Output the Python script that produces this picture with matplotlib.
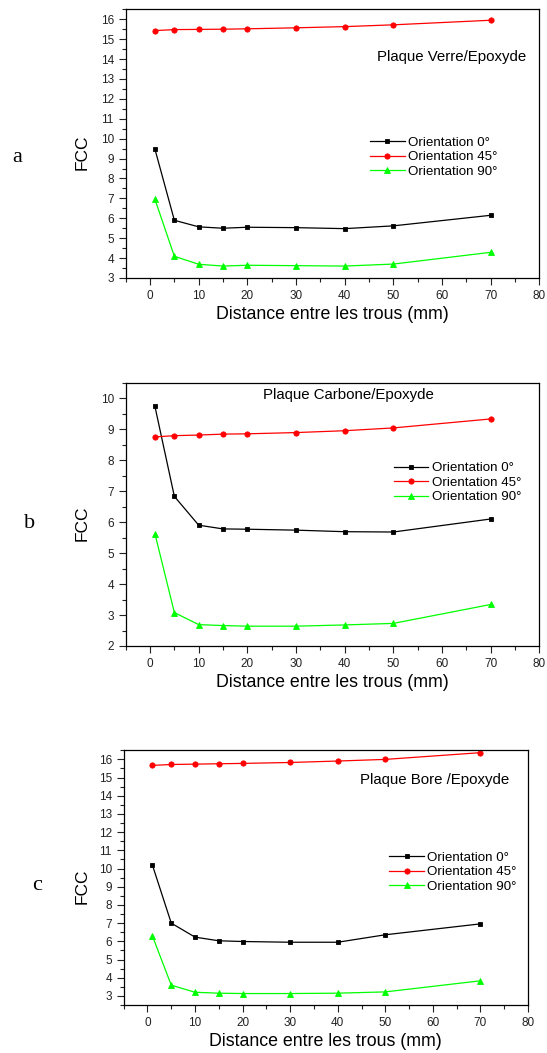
import matplotlib
matplotlib.use("Agg")
import matplotlib.pyplot as plt
from matplotlib.ticker import MultipleLocator

plt.rcParams['font.family'] = ['Liberation Sans', 'DejaVu Sans']

W, H = 547, 1053
DPI = 100

distance = [1, 5, 10, 15, 20, 30, 40, 50, 70]
labels = ["Orientation 0°", "Orientation 45°", "Orientation 90°"]

# Panel a : Plaque Verre/Epoxyde
verre_0 = [9.48, 5.90, 5.57, 5.50, 5.55, 5.53, 5.48, 5.62, 6.15]
verre_45 = [15.43, 15.48, 15.49, 15.50, 15.52, 15.57, 15.63, 15.72, 15.95]
verre_90 = [6.96, 4.09, 3.69, 3.60, 3.64, 3.62, 3.60, 3.70, 4.29]

# Panel b : Plaque Carbone/Epoxyde
carbone_0 = [9.74, 6.83, 5.90, 5.78, 5.77, 5.74, 5.69, 5.68, 6.10]
carbone_45 = [8.75, 8.79, 8.81, 8.84, 8.85, 8.89, 8.95, 9.04, 9.33]
carbone_90 = [5.63, 3.08, 2.69, 2.66, 2.64, 2.64, 2.68, 2.73, 3.34]

# Panel c : Plaque Bore /Epoxyde
bore_0 = [10.22, 7.00, 6.23, 6.03, 5.99, 5.95, 5.95, 6.36, 6.96]
bore_45 = [15.67, 15.72, 15.74, 15.76, 15.78, 15.83, 15.91, 16.00, 16.37]
bore_90 = [6.32, 3.59, 3.20, 3.15, 3.13, 3.13, 3.15, 3.22, 3.83]

panels = [
    dict(letter="a", title="Plaque Verre/Epoxyde", series=[verre_0, verre_45, verre_90],
         rect=(125.7, 539.3, 9.3, 278.0), ylim=(3, 16.5),
         title_xy=(526, 57), title_ha="right",
         leg_xy=(370, 157.3), letter_xy=(17, 158)),
    dict(letter="b", title="Plaque Carbone/Epoxyde", series=[carbone_0, carbone_45, carbone_90],
         rect=(125.7, 539.3, 382.7, 646.0), ylim=(2, 10.5),
         title_xy=(348, 395), title_ha="center",
         leg_xy=(393.6, 482.7), letter_xy=(30, 523)),
    dict(letter="c", title="Plaque Bore /Epoxyde", series=[bore_0, bore_45, bore_90],
         rect=(123.7, 528.0, 750.3, 1005.0), ylim=(2.5, 16.5),
         title_xy=(509, 780), title_ha="right",
         leg_xy=(389.3, 872), letter_xy=(37, 886)),
]

colors = ["#000000", "#FF0000", "#00FF00"]
markers = ["s", "o", "^"]
msizes = [3.4, 3.8, 4.0]

fig = plt.figure(figsize=(W / DPI, H / DPI), dpi=DPI)

def fx(px):
    return px / W

def fy(py):
    return 1 - py / H

for p in panels:
    l, r, t, b = p["rect"]
    ax = fig.add_axes([fx(l), fy(b), (r - l) / W, (b - t) / H])
    for vals, c, m, ms, lab in zip(p["series"], colors, markers, msizes, labels):
        ax.plot(distance, vals, color=c, marker=m, markersize=ms, linewidth=0.9,
                markeredgewidth=0.6, label=lab)
    ax.set_xlim(-5, 80)
    ax.set_ylim(*p["ylim"])
    ax.xaxis.set_major_locator(MultipleLocator(10))
    ax.xaxis.set_minor_locator(MultipleLocator(5))
    ax.yaxis.set_major_locator(MultipleLocator(1))
    ax.yaxis.set_minor_locator(MultipleLocator(0.5))
    ax.tick_params(which="both", direction="out", top=False, right=False,
                   labelsize=8.5, width=0.8, color="#222222", labelcolor="#222222")
    ax.tick_params(which="major", length=5, pad=3.5)
    ax.tick_params(which="minor", length=3)
    for s in ax.spines.values():
        s.set_linewidth(0.9)
    ax.set_xlabel("Distance entre les trous (mm)", fontsize=12.8, labelpad=3)
    ax.set_ylabel("FCC", fontsize=12.5)
    ax.yaxis.set_label_coords((89.5 - l) / (r - l), 0.5 - 9 / (b - t))
    fig.text(fx(p["title_xy"][0]), fy(p["title_xy"][1]), p["title"], fontsize=10.8,
             ha=p["title_ha"], va="center")
    fig.text(fx(p["letter_xy"][0]), fy(p["letter_xy"][1]), p["letter"], fontsize=16,
             family=["Liberation Serif", "DejaVu Serif"], ha="center", va="center")
    ax.legend(loc="center left", bbox_to_anchor=(fx(p["leg_xy"][0]), fy(p["leg_xy"][1])),
              bbox_transform=fig.transFigure, frameon=False, fontsize=9.6,
              borderpad=0, borderaxespad=0, handlelength=2.6, handletextpad=0.25,
              labelspacing=0.16)

fig.savefig("out.png", dpi=DPI)
